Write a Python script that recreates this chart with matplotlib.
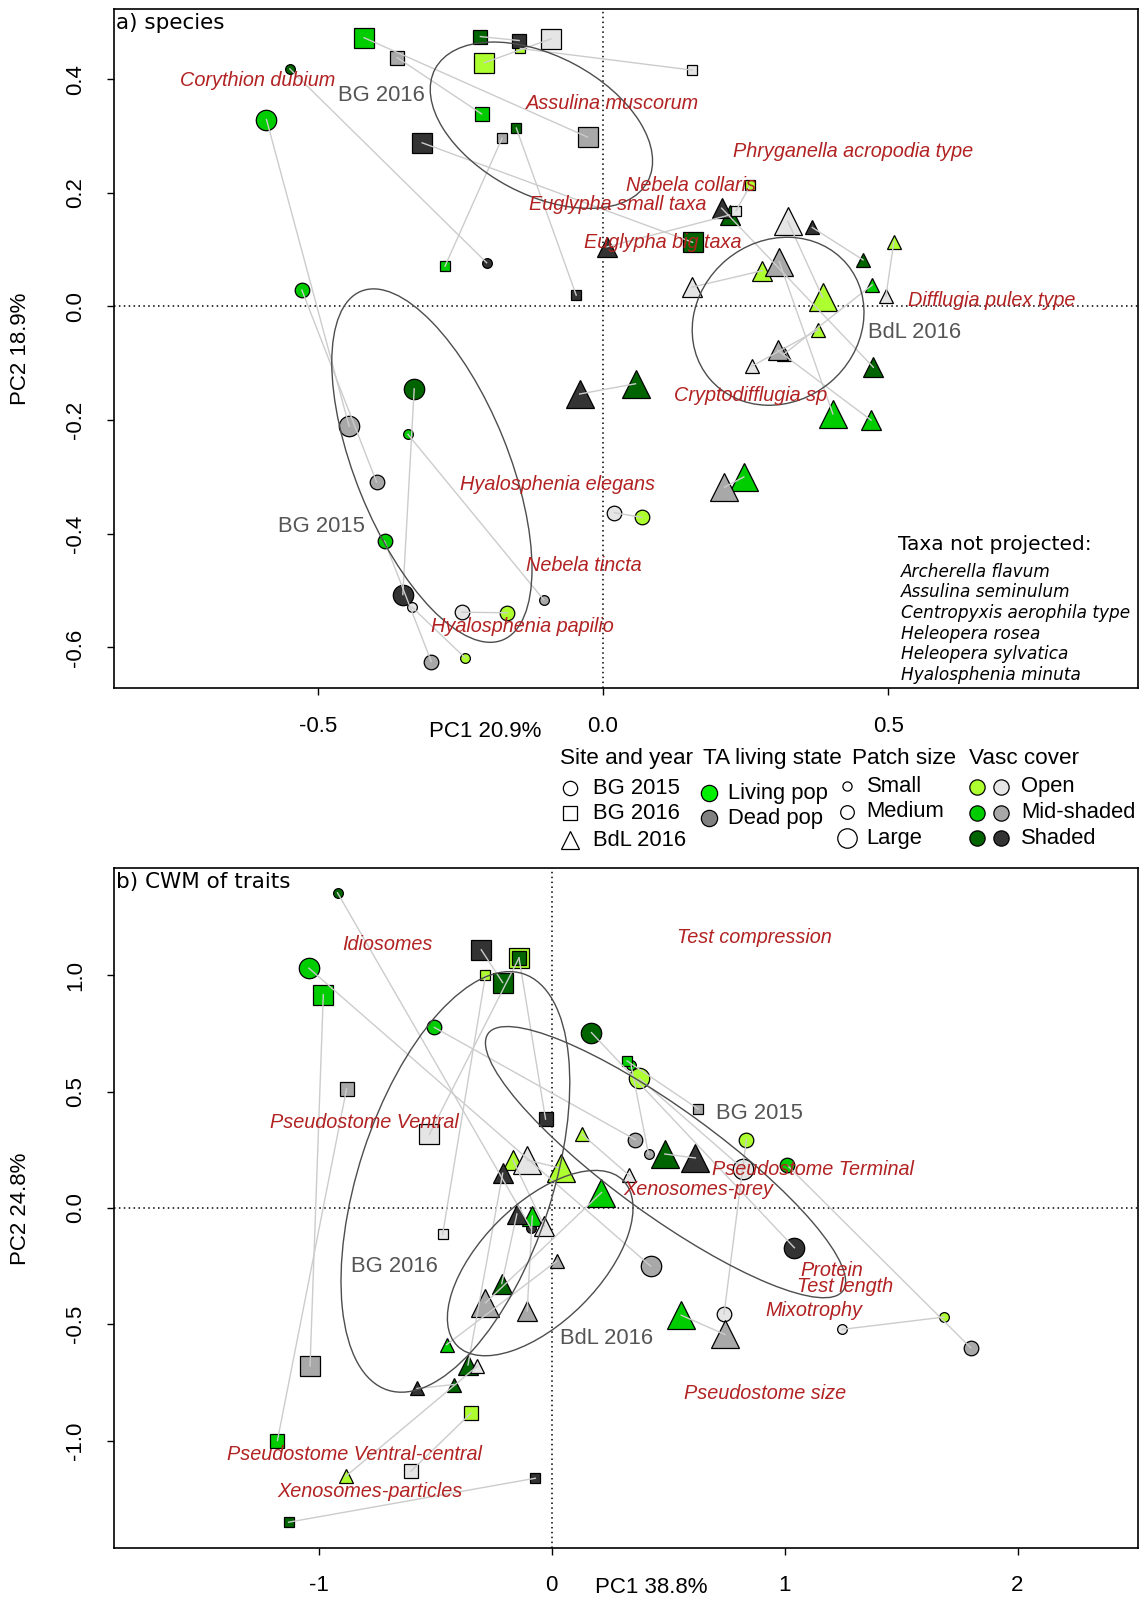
import matplotlib
matplotlib.use("Agg")
import matplotlib.pyplot as plt
from matplotlib.patches import Ellipse

plt.rcParams['font.family'] = ['Liberation Sans', 'DejaVu Sans']

LIVE_COL = {'open': '#ADFF2F', 'mid': '#00CD00', 'shaded': '#006400'}
DEAD_COL = {'open': '#E5E5E5', 'mid': '#A8A8A8', 'shaded': '#333333'}
SHAPE = {'BG2015': 'o', 'BG2016': 's', 'BdL2016': '^'}
BASE = {'o': 7.0, 's': 6.6, '^': 9.6}
SCALE = {'S': 1.0, 'M': 1.5, 'L': 2.1}
RED = '#B22222'
GREY_TXT = '#555555'

# ---------------- panel a: species ----------------
a_site = ['BG2015'] * 9 + ['BG2016'] * 9 + ['BdL2016'] * 12
a_size = ['L', 'M', 'L', 'S', 'M', 'S', 'M', 'M', 'S',
          'L', 'M', 'L', 'S', 'S', 'M', 'L', 'S', 'S',
          'L', 'L', 'L', 'L', 'M', 'S', 'S', 'S', 'S', 'M', 'M', 'M']
a_cover = ['mid', 'mid', 'shaded', 'mid', 'mid', 'open', 'open', 'open', 'shaded',
           'mid', 'mid', 'shaded', 'mid', 'shaded', 'shaded', 'open', 'open', 'open',
           'shaded', 'mid', 'mid', 'open', 'open', 'open', 'open', 'shaded', 'mid', 'mid',
           'shaded', 'shaded']
a_live_x = [-0.590, -0.528, -0.331, -0.342, -0.383, -0.242, -0.168, 0.068, -0.549,
            -0.419, -0.213, 0.157, -0.277, -0.152, -0.215, -0.208, -0.145, 0.258,
            0.057, 0.247, 0.403, 0.385, 0.279, 0.377, 0.510, 0.456, 0.472, 0.470, 0.474, 0.222]
a_live_y = [0.329, 0.029, -0.145, -0.225, -0.413, -0.618, -0.539, -0.371, 0.418,
            0.473, 0.339, 0.113, 0.071, 0.314, 0.475, 0.429, 0.454, 0.213,
            -0.136, -0.300, -0.189, 0.016, 0.063, -0.041, 0.114, 0.082, 0.038, -0.200, -0.107, 0.161]
a_dead_x = [-0.445, -0.397, -0.351, -0.104, -0.301, -0.335, -0.247, 0.020, -0.204,
            -0.027, -0.361, -0.317, -0.177, -0.047, -0.147, -0.091, 0.156, 0.233,
            -0.041, 0.213, 0.309, 0.324, 0.156, 0.261, 0.496, 0.367, 0.317, 0.306, 0.208, 0.007]
a_dead_y = [-0.211, -0.309, -0.507, -0.516, -0.625, -0.529, -0.538, -0.363, 0.077,
            0.298, 0.438, 0.288, 0.296, 0.020, 0.468, 0.471, 0.416, 0.168,
            -0.154, -0.318, 0.079, 0.150, 0.034, -0.105, 0.018, 0.139, -0.084, -0.077, 0.173, 0.105]

a_species = ['Corythion dubium', 'Assulina muscorum', 'Phryganella acropodia type',
             'Nebela collaris', 'Euglypha small taxa', 'Euglypha big taxa',
             'Difflugia pulex type', 'Cryptodifflugia sp', 'Hyalosphenia elegans',
             'Nebela tincta', 'Hyalosphenia papilio']
a_species_x = [-0.606, 0.016, 0.438, 0.154, 0.025, 0.104, 0.682, 0.258, -0.079, -0.034, -0.141]
a_species_y = [0.398, 0.357, 0.273, 0.213, 0.180, 0.113, 0.011, -0.157, -0.313, -0.455, -0.564]

a_groups = ['BG 2016', 'BdL 2016', 'BG 2015']
a_group_x = [-0.388, 0.546, -0.494]
a_group_y = [0.371, -0.045, -0.388]
a_ell_x = [-0.108, 0.307, -0.300]
a_ell_y = [0.319, -0.026, -0.280]
a_ell_a = [0.211, 0.157, 0.331]
a_ell_b = [0.122, 0.141, 0.134]
a_ell_ang = [-28, 40, -68]

not_projected = ['Archerella flavum', 'Assulina seminulum', 'Centropyxis aerophila type',
                 'Heleopera rosea', 'Heleopera sylvatica', 'Hyalosphenia minuta']

# ---------------- panel b: CWM of traits ----------------
b_site = a_site
b_size = ['L', 'M', 'L', 'S', 'M', 'S', 'M', 'L', 'S',
          'L', 'M', 'L', 'S', 'S', 'L', 'M', 'S', 'M',
          'L', 'L', 'L', 'L', 'M', 'S', 'S', 'S', 'S', 'M', 'M', 'M']
b_cover = ['mid', 'mid', 'shaded', 'mid', 'mid', 'open', 'open', 'open', 'shaded',
           'mid', 'mid', 'shaded', 'mid', 'shaded', 'open', 'shaded', 'open', 'open',
           'shaded', 'mid', 'mid', 'open', 'open', 'open', 'open', 'shaded', 'mid', 'mid',
           'shaded', 'shaded']
b_live_x = [-1.042, -0.503, 0.171, 0.341, 1.011, 1.685, 0.836, 0.376, -0.919,
            -0.980, -1.177, -0.210, 0.324, -1.129, -0.140, -0.140, -0.284, -0.346,
            0.486, 0.556, 0.214, 0.039, -0.166, -0.884, 0.131, -0.420, -0.451, -0.083, -0.359, -0.214]
b_live_y = [1.031, 0.776, 0.754, 0.614, 0.184, -0.469, 0.294, 0.557, 1.355,
            0.917, -1.000, 0.969, 0.632, -1.351, 1.075, 1.075, 1.000, -0.882,
            0.232, -0.461, 0.066, 0.171, 0.206, -1.154, 0.316, -0.759, -0.588, -0.035, -0.675, -0.325]
b_dead_x = [0.425, 0.359, 1.042, 0.416, 1.799, 1.247, 0.740, 0.823, -0.088,
            -1.037, -0.880, -0.302, 0.630, -0.070, -0.525, -0.026, -0.468, -0.604,
            0.617, 0.744, -0.284, -0.105, -0.031, -0.319, 0.333, -0.578, 0.022, -0.105, -0.210, -0.149]
b_dead_y = [-0.250, 0.294, -0.171, 0.232, -0.601, -0.522, -0.456, 0.167, -0.088,
            -0.680, 0.513, 1.110, 0.425, -1.162, 0.316, 0.382, -0.114, -1.132,
            0.215, -0.544, -0.408, 0.206, -0.079, -0.680, 0.140, -0.776, -0.228, -0.443, 0.149, -0.026]

b_traits = ['Idiosomes', 'Test compression', 'Pseudostome Ventral', 'Pseudostome Terminal',
            'Xenosomes-prey', 'Protein', 'Test length', 'Mixotrophy', 'Pseudostome size',
            'Pseudostome Ventral-central', 'Xenosomes-particles']
b_traits_x = [-0.705, 0.871, -0.805, 1.120, 0.630, 1.204, 1.260, 1.125, 0.915, -0.845, -0.779]
b_traits_y = [1.132, 1.162, 0.368, 0.167, 0.079, -0.268, -0.338, -0.439, -0.798, -1.061, -1.219]

b_groups = ['BG 2015', 'BG 2016', 'BdL 2016']
b_group_x = [0.893, -0.674, 0.236]
b_group_y = [0.408, -0.250, -0.561]
b_ell_x = [0.489, -0.413, -0.049]
b_ell_y = [0.197, 0.112, -0.237]
b_ell_a = [0.941, 0.941, 0.503]
b_ell_b = [0.228, 0.416, 0.254]
b_ell_ang = [-36, 72, 45]


def draw_panel(ax, site, size, cover, lx, ly, dx, dy, order):
    z = 2.0
    for grp in order:
        idx = [i for i in range(len(site)) if site[i] == grp]
        for state, xs, ys, cols in (('live', lx, ly, LIVE_COL), ('dead', dx, dy, DEAD_COL)):
            for i in idx:
                m = SHAPE[site[i]]
                ax.plot(xs[i], ys[i], marker=m, ms=BASE[m] * SCALE[size[i]],
                        mfc=cols[cover[i]], mec='black', mew=0.9, ls='none', zorder=z)
                z += 0.001
    for i in range(len(site)):
        ax.plot([lx[i], dx[i]], [ly[i], dy[i]], color='#CCCCCC', lw=1.0, zorder=5)


def style_axes(ax, xlim, ylim, xticks, xlabels, yticks, ylabels):
    ax.set_xlim(xlim)
    ax.set_ylim(ylim)
    ax.axhline(0, color='black', ls=(0, (1, 2.2)), lw=1.1, zorder=1)
    ax.axvline(0, color='black', ls=(0, (1, 2.2)), lw=1.1, zorder=1)
    ax.set_xticks(xticks)
    ax.set_xticklabels(xlabels, fontsize=16)
    ax.set_yticks(yticks)
    ax.set_yticklabels(ylabels, fontsize=16, rotation=90, va='center')
    ax.tick_params(direction='out', length=5, width=1, pad=15)
    for sp in ax.spines.values():
        sp.set_linewidth(1.2)


def add_ellipses(ax, ex, ey, ea, eb, eang):
    for i in range(len(ex)):
        ax.add_patch(Ellipse((ex[i], ey[i]), 2 * ea[i], 2 * eb[i], angle=eang[i],
                             fill=False, ec='#4D4D4D', lw=1.0, zorder=6))


fig = plt.figure(figsize=(11.42, 15.99), dpi=100)

axa = fig.add_axes([0.0995, 0.5695, 0.897, 0.4247])
style_axes(axa, (-0.858, 0.938), (-0.672, 0.523),
           [-0.5, 0.0, 0.5], ['-0.5', '0.0', '0.5'],
           [-0.6, -0.4, -0.2, 0.0, 0.2, 0.4], ['-0.6', '-0.4', '-0.2', '0.0', '0.2', '0.4'])
draw_panel(axa, a_site, a_size, a_cover, a_live_x, a_live_y, a_dead_x, a_dead_y,
           ['BdL2016', 'BG2015', 'BG2016'])
add_ellipses(axa, a_ell_x, a_ell_y, a_ell_a, a_ell_b, a_ell_ang)
for i in range(len(a_species)):
    axa.text(a_species_x[i], a_species_y[i], a_species[i], color=RED, fontsize=14.3,
             style='italic', ha='center', va='center', zorder=8)
for i in range(len(a_groups)):
    axa.text(a_group_x[i], a_group_y[i], a_groups[i], color=GREY_TXT, fontsize=15.8,
             ha='center', va='center', zorder=8)
axa.text(0.002, 0.994, 'a) species', transform=axa.transAxes, fontsize=15.5,
         family='DejaVu Sans', ha='left', va='top')
axa.text(0.766, 0.212, 'Taxa not projected:', transform=axa.transAxes, fontsize=14.5,
         family='DejaVu Sans', ha='left', va='center')
for i, name in enumerate(not_projected):
    axa.text(0.769, 0.172 - i * 0.0305, name, transform=axa.transAxes, fontsize=12.2,
             family='DejaVu Sans', style='italic', ha='left', va='center')

axb = fig.add_axes([0.0995, 0.0321, 0.897, 0.4249])
style_axes(axb, (-1.880, 2.517), (-1.4605, 1.4605),
           [-1, 0, 1, 2], ['-1', '0', '1', '2'],
           [-1.0, -0.5, 0.0, 0.5, 1.0], ['-1.0', '-0.5', '0.0', '0.5', '1.0'])
draw_panel(axb, b_site, b_size, b_cover, b_live_x, b_live_y, b_dead_x, b_dead_y,
           ['BG2015', 'BG2016', 'BdL2016'])
add_ellipses(axb, b_ell_x, b_ell_y, b_ell_a, b_ell_b, b_ell_ang)
for i in range(len(b_traits)):
    axb.text(b_traits_x[i], b_traits_y[i], b_traits[i], color=RED, fontsize=14.3,
             style='italic', ha='center', va='center', zorder=8)
for i in range(len(b_groups)):
    axb.text(b_group_x[i], b_group_y[i], b_groups[i], color=GREY_TXT, fontsize=15.8,
             ha='center', va='center', zorder=8)
axb.text(0.002, 0.994, 'b) CWM of traits', transform=axb.transAxes, fontsize=15.5,
         family='DejaVu Sans', ha='left', va='top')

# axis titles
fig.text(0.425, 1 - 717 / 1568, 'PC1 20.9%', fontsize=16, ha='center', va='center')
fig.text(0.0179, 1 - 342 / 1568, 'PC2 18.9%', fontsize=16, ha='center', va='center', rotation=90)
fig.text(0.5705, 1 - 1557 / 1568, 'PC1 38.8%', fontsize=16, ha='center', va='center')
fig.text(0.0179, 1 - 1185 / 1568, 'PC2 24.8%', fontsize=16, ha='center', va='center', rotation=90)

# legend block under panel a (drawn on an overlay in reference pixel units)
lg = fig.add_axes([0, 0, 1, 1])
lg.set_xlim(0, 1120)
lg.set_ylim(1568, 0)
lg.axis('off')
lg.patch.set_alpha(0)

leg_fs = 15.8
for x, t in zip([549.0, 689.0, 836.0, 950.0],
                ['Site and year', 'TA living state', 'Patch size', 'Vasc cover']):
    lg.text(x, 743.7, t, fontsize=16.2, ha='left', va='center')

site_marks = ['o', 's', '^']
site_ms = [10.3, 9.5, 12.5]
site_rows = [773.2, 797.7, 823.8]
site_names = ['BG 2015', 'BG 2016', 'BdL 2016']
for m, ms, y, t in zip(site_marks, site_ms, site_rows, site_names):
    lg.plot(559.4, y, marker=m, ms=ms, mfc='white', mec='black', mew=0.9, ls='none')
    lg.text(581.4, y, t, fontsize=leg_fs, ha='left', va='center')

state_cols = ['#00EE00', '#808080']
state_rows = [778.0, 802.6]
state_names = ['Living pop', 'Dead pop']
for c, y, t in zip(state_cols, state_rows, state_names):
    lg.plot(694.9, y, marker='o', ms=11.7, mfc=c, mec='black', mew=0.9, ls='none')
    lg.text(714.3, y, t, fontsize=leg_fs, ha='left', va='center')

size_ms = [6.6, 9.8, 14.0]
size_rows = [771.0, 796.0, 822.0]
size_names = ['Small', 'Medium', 'Large']
for ms, y, t in zip(size_ms, size_rows, size_names):
    lg.plot(830.4, y, marker='o', ms=ms, mfc='white', mec='black', mew=0.9, ls='none')
    lg.text(850.0, y, t, fontsize=leg_fs, ha='left', va='center')

cover_keys = ['open', 'mid', 'shaded']
cover_rows = [771.6, 797.0, 822.0]
cover_names = ['Open', 'Mid-shaded', 'Shaded']
for k, y, t in zip(cover_keys, cover_rows, cover_names):
    lg.plot(958.4, y, marker='o', ms=11, mfc=LIVE_COL[k], mec='black', mew=0.9, ls='none')
    lg.plot(981.6, y, marker='o', ms=11, mfc=DEAD_COL[k], mec='black', mew=0.9, ls='none')
    lg.text(1001.5, y, t, fontsize=leg_fs, ha='left', va='center')

fig.savefig('out.png', dpi=100)
